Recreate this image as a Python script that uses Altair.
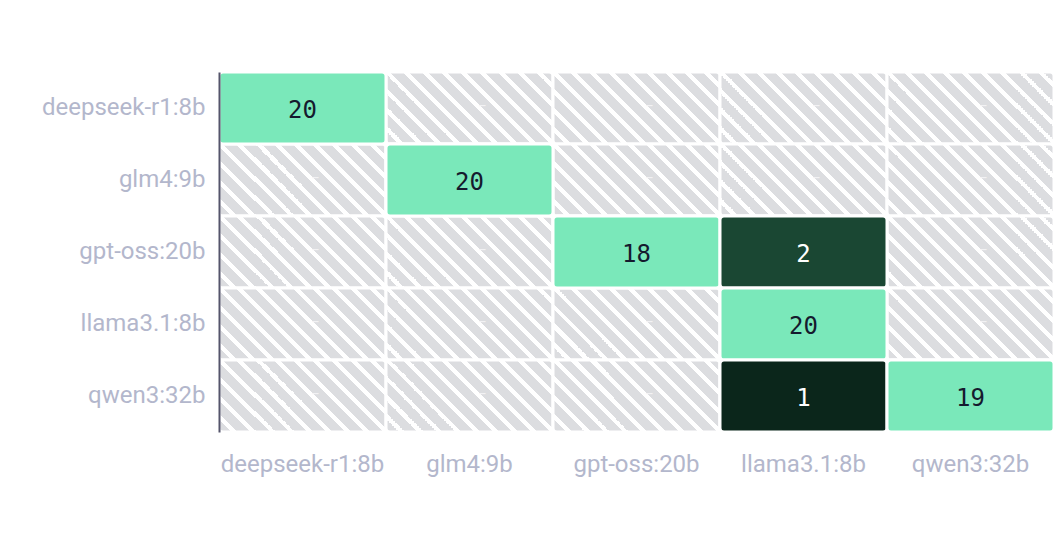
import altair as alt
import pandas as pd

# models (rows = expected, columns = predicted)
models = ["deepseek-r1:8b", "glm4:9b", "gpt-oss:20b", "llama3.1:8b", "qwen3:32b"]
counts = [
    [20, 0, 0, 0, 0],
    [0, 20, 0, 0, 0],
    [0, 0, 18, 2, 0],
    [0, 0, 0, 20, 0],
    [0, 0, 0, 1, 19],
]

rows = []
for i, actual in enumerate(models):
    for j, predicted in enumerate(models):
        rows.append({"actual": actual, "predicted": predicted, "count": counts[i][j]})
df = pd.DataFrame(rows)

W, H = 835, 360
cell_w, cell_h = W / len(models), H / len(models)

# striped fill built from a linear gradient with hard stops (45 degree stripes)
span = cell_w + cell_h
k = span / (cell_w ** 2 + cell_h ** 2)
period, grey = 19, 13
stops = []
n = int(span // period) + 1
for i in range(n):
    a = min(i * period / span, 1)
    b = min((i * period + grey) / span, 1)
    c = min((i + 1) * period / span, 1)
    stops += [
        {"offset": a, "color": "#dcdde0"},
        {"offset": b, "color": "#dcdde0"},
        {"offset": b, "color": "#ffffff"},
        {"offset": c, "color": "#ffffff"},
    ]
hatch = {"gradient": "linear", "x1": 0, "y1": 1, "x2": k * cell_w, "y2": 1 - k * cell_h,
         "stops": stops}

x_enc = alt.X("predicted:N", sort=models, title=None,
              scale=alt.Scale(paddingInner=0, paddingOuter=0),
              axis=alt.Axis(orient="bottom", domain=False, ticks=False, labelAngle=0,
                            labelPadding=20, labelBaseline="top"))
y_enc = alt.Y("actual:N", sort=models, title=None,
              scale=alt.Scale(paddingInner=0, paddingOuter=0),
              axis=alt.Axis(domain=True, domainColor="#55556b", domainWidth=2,
                            ticks=False, labelPadding=14))

base = alt.Chart(df).encode(x=x_enc, y=y_enc)

background = base.mark_rect(fill=hatch, stroke="white", strokeWidth=3, cornerRadius=4)

dashes = base.mark_text(text="–", fontSize=15, color="#f2f2f4", dx=13, dy=-3,
                        font="DejaVu Sans").transform_filter("datum.count == 0")

cells = base.mark_rect(stroke="white", strokeWidth=3, cornerRadius=4).encode(
    color=alt.Color("count:Q", legend=None,
                    scale=alt.Scale(domain=[1, 2, 18, 20],
                                    range=["#0b261b", "#1a4733", "#7ae8ba", "#7ae8ba"]))
).transform_filter("datum.count > 0")

labels = base.mark_text(fontSize=24, font="DejaVu Sans Mono", dy=3).encode(
    text="count:Q",
    color=alt.condition("datum.count >= 10", alt.value("#151a2e"), alt.value("#ffffff")),
).transform_filter("datum.count > 0")

chart = alt.layer(background, dashes, cells, labels).properties(
    width=W, height=H,
    autosize=alt.AutoSizeParams(type="none"),
    padding={"left": 211, "top": 64, "right": 0, "bottom": 60},
).configure_axis(
    labelFont="Roboto", labelFontSize=24, labelColor="#b3b7cc", grid=False
).configure_view(strokeWidth=0)

chart.save("out.html", embed_options={"renderer": "svg", "actions": False})
